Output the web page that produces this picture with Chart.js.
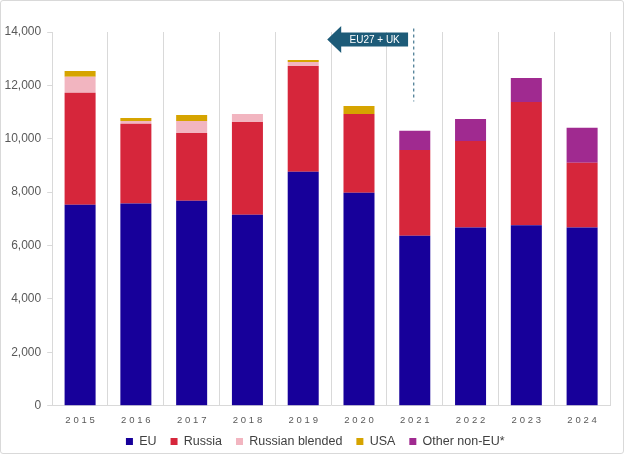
<!DOCTYPE html>
<html>
<head>
<meta charset="utf-8">
<script src="https://cdn.jsdelivr.net/npm/chart.js@4"></script>
<style>
  html, body { margin: 0; padding: 0; background: #fff; }
  #wrap { width: 622px; height: 452px; border: 1px solid #d9d9d9; border-radius: 3px; position: relative; }
</style>
</head>
<body>
<div id="wrap"><canvas id="chart"></canvas></div>
<script>
const years = ['2015', '2016', '2017', '2018', '2019', '2020', '2021', '2022', '2023', '2024']
const eu = [7525, 7575, 7675, 7150, 8760, 7975, 6370, 6680, 6760, 6680]
const russia = [4195, 2985, 2545, 3480, 3970, 2955, 3210, 3240, 4620, 2420]
const russianBlended = [600, 110, 450, 300, 150, null, null, null, null, null]
const usa = [220, 110, 220, null, 70, 300, null, null, null, null]
const otherNonEu = [null, null, null, null, null, null, 720, 820, 900, 1310]
const yTicks = [0, 2000, 4000, 6000, 8000, 10000, 12000, 14000]

// annotation: dashed line at 2021, arrow pointing back to the EU27 + UK years
const noteLine = { x: 6, yFrom: 11400, yTo: 14130 }
const noteArrow = { xFrom: 5.88, xTo: 4.43, y: 13720, text: 'EU27 + UK' }

const annotation = {
  id: 'annotation',
  afterDatasetsDraw(chart) {
    const { ctx, scales: { x, y } } = chart
    ctx.save()
    // dashed separator
    const lx = x.getPixelForValue(noteLine.x) - 1
    ctx.strokeStyle = '#1d5b78'
    ctx.lineWidth = 1
    ctx.setLineDash([3, 3])
    ctx.beginPath()
    ctx.moveTo(lx, y.getPixelForValue(noteLine.yTo))
    ctx.lineTo(lx, y.getPixelForValue(noteLine.yFrom))
    ctx.stroke()
    ctx.setLineDash([])
    // arrow
    const x1 = x.getPixelForValue(noteArrow.xFrom)
    const x0 = x.getPixelForValue(noteArrow.xTo)
    const cy = y.getPixelForValue(noteArrow.y)
    const headW = 14, headH = 13.5, bodyH = 7
    ctx.fillStyle = '#1d5b78'
    ctx.beginPath()
    ctx.moveTo(x0, cy)
    ctx.lineTo(x0 + headW, cy - headH)
    ctx.lineTo(x0 + headW, cy - bodyH)
    ctx.lineTo(x1, cy - bodyH)
    ctx.lineTo(x1, cy + bodyH)
    ctx.lineTo(x0 + headW, cy + bodyH)
    ctx.lineTo(x0 + headW, cy + headH)
    ctx.closePath()
    ctx.fill()
    ctx.fillStyle = '#ffffff'
    ctx.font = '10px "Liberation Sans", Arial, sans-serif'
    ctx.textAlign = 'center'
    ctx.textBaseline = 'middle'
    ctx.fillText(noteArrow.text, (x0 + headW + x1) / 2, cy + 0.5)
    ctx.restore()
  }
}

// spaced-out year labels, tighter legend box
const tweaks = {
  id: 'tweaks',
  beforeLayout(chart) {
    const lg = chart.legend
    if (lg && !lg._tweaked) {
      const fit = lg.fit
      lg.fit = function () { fit.call(this); this.height = 31.7 }
      lg._tweaked = true
    }
  },
  afterLayout(chart) {
    const lg = chart.legend
    if (lg) { lg.left += 11; lg.right += 11 }
  },
  beforeDraw(chart) {
    const s = chart.scales.x
    if (s._spaced) return
    const orig = s.drawLabels
    s.drawLabels = function (area) {
      const b = this.bottom
      this.bottom = b + 20
      this.ctx.save()
      this.ctx.letterSpacing = '2.8px'
      this.ctx.translate(1.4, 0)
      orig.call(this, area)
      this.ctx.restore()
      this.bottom = b
    }
    s._spaced = true
  }
}

function ds(label, data, color) {
  return { label, data, backgroundColor: color, borderWidth: 0, categoryPercentage: 1, barPercentage: 0.556 }
}

Chart.defaults.font.family = '"Liberation Sans", Arial, sans-serif'
Chart.defaults.color = '#595959'

new Chart(document.getElementById('chart'), {
  type: 'bar',
  data: {
    labels: years,
    datasets: [
      ds('EU', eu, '#17009a'),
      ds('Russia', russia, '#d6263b'),
      ds('Russian blended', russianBlended, '#f2b5c0'),
      ds('USA', usa, '#d6a400'),
      ds('Other non-EU*', otherNonEu, '#a02a90')
    ]
  },
  options: {
    responsive: true,
    maintainAspectRatio: false,
    animation: false,
    layout: { padding: { top: 31, right: 13, left: -2.5, bottom: 0 } },
    scales: {
      x: {
        stacked: true,
        afterFit: (axis) => { axis.height = 15.6 },
        grid: { display: true, offset: true, color: '#d9d9d9', drawTicks: false },
        border: { display: true, color: '#d9d9d9' },
        ticks: { font: { size: 9.5 }, padding: 9, color: '#595959' }
      },
      y: {
        stacked: true,
        min: 0,
        max: 14000,
        afterBuildTicks: (axis) => { axis.ticks = yTicks.map(v => ({ value: v })) },
        grid: { drawOnChartArea: false, drawTicks: true, tickLength: 5, color: '#d9d9d9' },
        border: { display: true, color: '#d9d9d9' },
        ticks: {
          font: { size: 12 },
          padding: 6,
          color: '#595959',
          callback: (v) => v.toLocaleString('en-US')
        }
      }
    },
    plugins: {
      legend: {
        position: 'bottom',
        labels: { boxWidth: 7, boxHeight: 7, padding: 14, font: { size: 12.5 }, color: '#404040' }
      },
      tooltip: { enabled: false }
    }
  },
  plugins: [annotation, tweaks]
})
</script>
</body>
</html>
